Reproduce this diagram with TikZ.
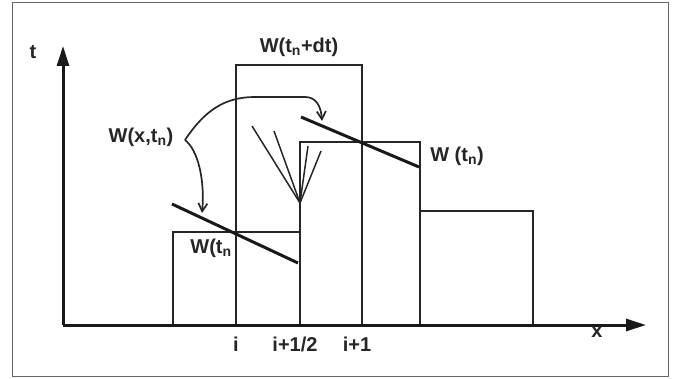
\documentclass[tikz,border=0pt]{standalone}
\usepackage{fontspec}
\setmainfont{Liberation Sans}
\usetikzlibrary{arrows.meta}
\tikzset{
  cell/.style={line width=2pt, black!85},
  axis/.style={line width=3pt, black!90, -{Triangle[length=20pt,width=12pt]}},
  slope/.style={line width=3pt, black!90},
  fan/.style={line width=1.5pt, black!85},
  curve/.style={line width=1.7pt, black!85, -{Straight Barb[length=8pt,width=9pt]}},
  lbl/.style={font=\fontsize{20}{22}\selectfont\bfseries, inner sep=0pt, text=black!85},
}
\newcommand{\sbn}{\textsubscript{n}}
\begin{document}
\begin{tikzpicture}[x=1pt,y=-1pt]
\useasboundingbox (0,0) rectangle (679,379);
% frame
\draw[line width=1pt, black!60] (12,3) rectangle (668,376);
% coordinates
\coordinate (O) at (63,325);
\coordinate (T) at (63,46);
\coordinate (X) at (646,325);
% cells
\draw[cell] (173,325) -- (173,232) -- (300,232);
\draw[cell] (300,325) -- (300,142) -- (420,142) -- (420,325);
\draw[cell] (420,211) -- (533,211) -- (533,325);
% staggered cell W(t_n+dt)
\draw[cell] (236,325) -- (236,65) -- (362,65) -- (362,325);
% axes
\draw[axis] (O) -- (T);
\draw[axis] (O) -- (X);
% sloped reconstructions
\draw[slope] (172,204) -- (298,263);
\draw[slope] (301,117) -- (419,167);
% fan
\coordinate (A) at (300,203);
\draw[fan] (A) -- (252,126);
\draw[fan] (A) -- (274,131);
\draw[fan] (A) -- (308,146);
\draw[fan] (A) -- (321,151);
% labels
\node[lbl] (lt) at (33,52) {t};
\node[lbl] (lx) at (597,332) {x};
\node[lbl] (li) at (236,344) {i};
\node[lbl] (lih) at (295,344) {i+1/2};
\node[lbl] (li1) at (357,344) {i+1};
\node[lbl] (ldt) at (299,47) {W(t\sbn+dt)};
\node[lbl] (lwx) at (141,137) {W(x,t\sbn)};
\node[lbl] (lwr) at (457,156) {W (t\sbn)};
\node[lbl] (lwl) at (211,248) {W(t\sbn};
% curved arrows
\coordinate (B) at (185,140);
\draw[curve] (B) .. controls (205,110) and (225,97) .. (255,97) -- (305,97) .. controls (316,97) and (321,106) .. (322,121);
\draw[curve] (B) .. controls (198,150) and (205,180) .. (202,213);
\end{tikzpicture}
\end{document}
